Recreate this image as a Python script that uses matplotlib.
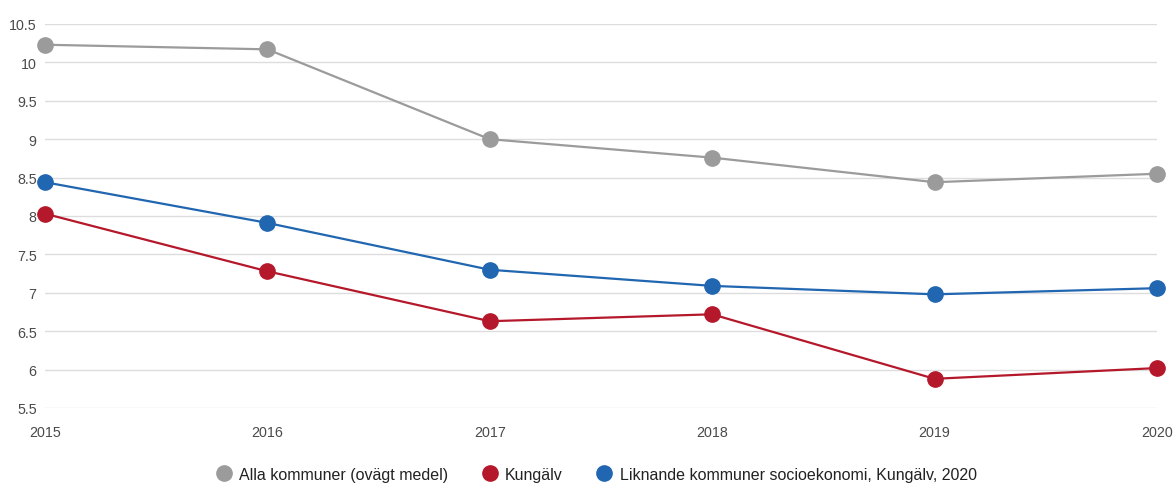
import matplotlib
matplotlib.use("Agg")
import matplotlib.pyplot as plt

years = [2015, 2016, 2017, 2018, 2019, 2020]
alla = [10.23, 10.17, 9.00, 8.76, 8.44, 8.55]
kungalv = [8.03, 7.28, 6.63, 6.72, 5.88, 6.02]
liknande = [8.44, 7.91, 7.30, 7.09, 6.98, 7.06]

labels = ["Alla kommuner (ovägt medel)", "Kungälv",
          "Liknande kommuner socioekonomi, Kungälv, 2020"]
colors = ["#9b9b9b", "#b5182b", "#2166b0"]

plt.rcParams['font.family'] = ['Liberation Sans', 'DejaVu Sans']

fig = plt.figure(figsize=(11.74, 4.85), dpi=100)
ax = fig.add_axes([45/1174, 76/485, 1112/1174, 384/485])

for series, lab, c in zip([alla, kungalv, liknande], labels, colors):
    ax.plot(years, series, "-", color=c, lw=1.6, marker="o", ms=11,
            label=lab, clip_on=False, zorder=3)

ax.set_xlim(2015, 2020)
ax.set_ylim(5.5, 10.5)
yt = [5.5, 6, 6.5, 7, 7.5, 8, 8.5, 9, 9.5, 10, 10.5]
ax.set_yticks(yt)
ax.set_yticklabels(["{:g}".format(v) for v in yt])
ax.set_xticks(years)
ax.set_xticklabels([str(y) for y in years])
ax.grid(axis="y", color="#dddddd", lw=1)
for s in ax.spines.values():
    s.set_visible(False)
ax.tick_params(length=0, labelsize=10.3, colors="#4a4a4a")
ax.tick_params(axis="y", pad=6)
ax.tick_params(axis="x", pad=12)

leg = fig.legend(loc="center", bbox_to_anchor=(0.508, 0.02), ncol=3, frameon=False,
                 fontsize=11.5, handlelength=1.0, handletextpad=0.45, columnspacing=2.1,
                 labelcolor="#222222")
for h in leg.legend_handles:
    h.set_linestyle("")
    h.set_markersize(11)

fig.savefig("out.png", dpi=100)
